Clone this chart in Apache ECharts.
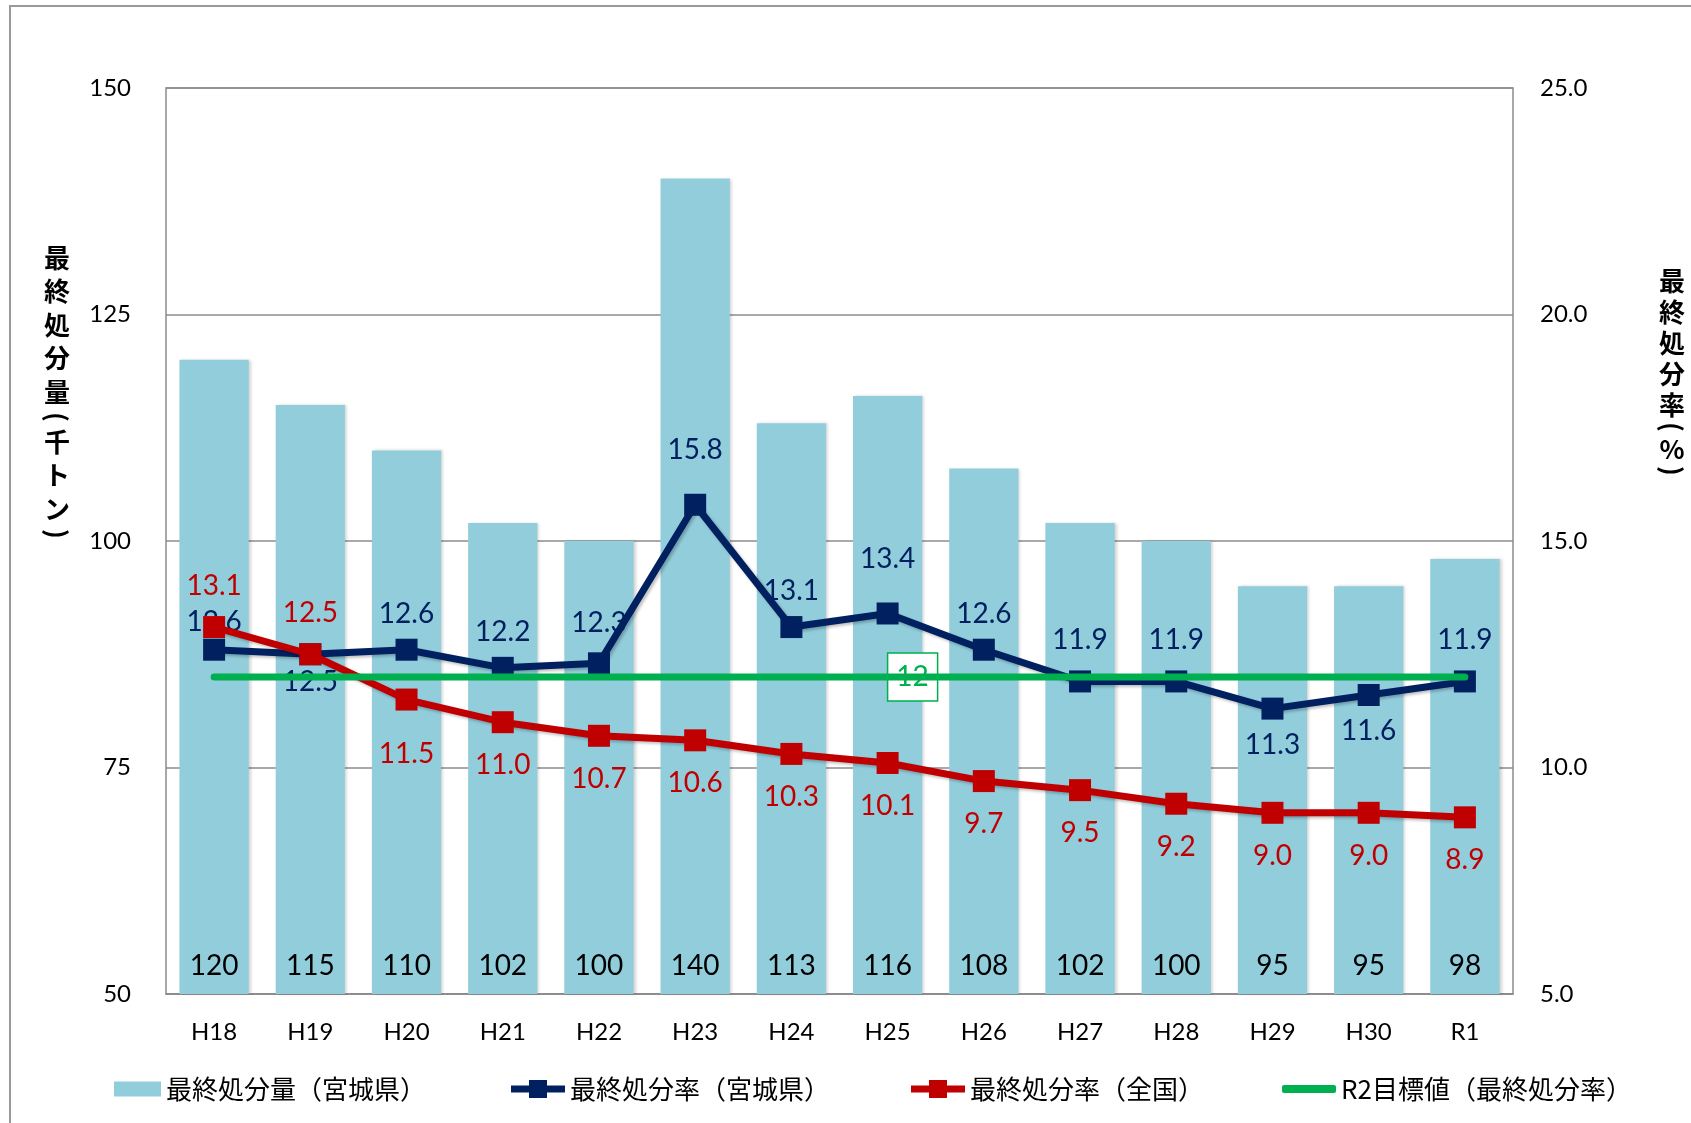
<!DOCTYPE html>
<html>
<head>
<meta charset="utf-8">
<script src="https://cdn.jsdelivr.net/npm/echarts@6/dist/echarts.min.js"></script>
<style>
html, body { margin: 0; padding: 0; background: #fff; }
#chart { width: 1691px; height: 1123px; }
</style>
</head>
<body>
<div id="chart"></div>
<script>
// 年度
const years = ['H18', 'H19', 'H20', 'H21', 'H22', 'H23', 'H24', 'H25', 'H26', 'H27', 'H28', 'H29', 'H30', 'R1'];
// 最終処分量（宮城県） 千トン
const amountMiyagi = [120, 115, 110, 102, 100, 140, 113, 116, 108, 102, 100, 95, 95, 98];
// 最終処分率（宮城県） %
const rateMiyagi = [12.6, 12.5, 12.6, 12.2, 12.3, 15.8, 13.1, 13.4, 12.6, 11.9, 11.9, 11.3, 11.6, 11.9];
// 最終処分率（全国） %
const rateNational = [13.1, 12.5, 11.5, 11.0, 10.7, 10.6, 10.3, 10.1, 9.7, 9.5, 9.2, 9.0, 9.0, 8.9];
// R2目標値（最終処分率） %
const rateTarget = [12, 12, 12, 12, 12, 12, 12, 12, 12, 12, 12, 12, 12, 12];

const names = ['最終処分量（宮城県）', '最終処分率（宮城県）', '最終処分率（全国）', 'R2目標値（最終処分率）'];

const NAVY = '#002060';
const RED = '#C00000';
const GREEN = '#00B050';
const BLUE = '#92CDDC';
const GRAY = '#8c8c8c';

// ラベルの上下・距離（見た目の調整用）
const miyagiBelow = [1, 11, 12];
const miyagiDist = { 0: 3, 1: 3, 5: 30, 7: 30, 4: 15, 9: 16, 10: 16, 13: 16 };
const nationalAbove = [0, 1];
const nationalDist = { 2: 29 };

const miyagiData = rateMiyagi.map((v, i) => ({
  value: v,
  label: {
    position: miyagiBelow.includes(i) ? 'bottom' : 'top',
    distance: miyagiDist[i] !== undefined ? miyagiDist[i] : 11
  }
}));
const nationalData = rateNational.map((v, i) => ({
  value: v,
  label: {
    position: nationalAbove.includes(i) ? 'top' : 'bottom',
    distance: nationalDist[i] !== undefined ? nationalDist[i] : (nationalAbove.includes(i) ? 16 : 18)
  }
}));

// 縦書きの軸タイトル（括弧は90度回転）
function verticalTitle(chars, x, yFirst, pitch, parenStep) {
  const out = [];
  let y = yFirst;
  chars.forEach((ch, i) => {
    if (i > 0) {
      const prevParen = chars[i - 1] === '(' || chars[i - 1] === ')';
      const paren = ch === '(' || ch === ')';
      y += (prevParen || paren) ? parenStep : pitch;
    }
    const isParen = ch === '(' || ch === ')';
    out.push({
      type: 'text', silent: true,
      x: x, y: y,
      rotation: isParen ? -Math.PI / 2 : 0,
      style: {
        text: ch, fill: '#000',
        fontFamily: 'Noto Sans CJK JP', fontWeight: 'bold', fontSize: 26,
        align: 'center', verticalAlign: 'middle'
      }
    });
  });
  return out;
}

const navyIcon = 'path://M0,5.5 H18 V0 H36 V5.5 H54 V12.5 H36 V18 H18 V12.5 H0 Z';
const legendLeft = [114, 511, 911, 1282];
const legendIcon = ['rect', navyIcon, navyIcon, 'roundRect'];
const legendSize = [[47, 15], [54, 18], [54, 18], [54, 8]];

var myChart = echarts.init(document.getElementById('chart'));

var option = {
  animation: false,
  backgroundColor: '#fff',
  textStyle: { fontFamily: 'Lato' },
  graphic: [
    {
      type: 'rect', z: -10, silent: true,
      shape: { x: 10, y: 6, width: 1700, height: 1200 },
      style: { fill: 'none', stroke: '#9a9a9a', lineWidth: 2 }
    }
  ].concat(
    verticalTitle(['最', '終', '処', '分', '量', '(', '千', 'ト', 'ン', ')'], 57, 258, 33.5, 25),
    verticalTitle(['最', '終', '処', '分', '率', '(', '%', ')'], 1672, 281, 31, 22)
  ),
  legend: names.map((n, i) => ({
    data: [{ name: n, icon: legendIcon[i] }],
    left: legendLeft[i],
    top: 1076,
    padding: 0,
    itemWidth: legendSize[i][0],
    itemHeight: legendSize[i][1],
    selectedMode: false,
    textStyle: { fontFamily: 'Noto Sans CJK JP', fontSize: 26, color: '#000' }
  })),
  grid: {
    left: 166, right: 178, top: 88, bottom: 129,
    containLabel: false,
    outerBoundsMode: 'none',
    show: true,
    borderColor: GRAY,
    borderWidth: 1.5,
    backgroundColor: 'transparent'
  },
  xAxis: {
    type: 'category',
    data: years,
    axisLine: { lineStyle: { color: GRAY, width: 1.5 } },
    axisTick: { inside: true, length: 8, lineStyle: { color: GRAY, width: 1.5 } },
    axisLabel: { color: '#000', fontSize: 24, margin: 26, interval: 0 }
  },
  yAxis: [
    {
      type: 'value', min: 50, max: 150, interval: 25,
      axisLine: { show: false },
      axisTick: { show: false },
      splitLine: { lineStyle: { color: GRAY, width: 1.5 } },
      axisLabel: { color: '#000', fontSize: 24, margin: 35 }
    },
    {
      type: 'value', min: 5, max: 25, interval: 5,
      axisLine: { show: false },
      axisTick: { show: false },
      splitLine: { show: false },
      axisLabel: { color: '#000', fontSize: 24, margin: 27, formatter: v => v.toFixed(1) }
    }
  ],
  series: [
    {
      name: names[0],
      type: 'bar',
      data: amountMiyagi,
      barWidth: '72%',
      itemStyle: {
        color: BLUE,
        shadowColor: 'rgba(0,0,0,0.18)', shadowBlur: 3, shadowOffsetX: 2
      },
      label: {
        show: true, position: 'insideBottom', distance: 14,
        color: '#000', fontSize: 28, fontFamily: 'Lato'
      },
      z: 1
    },
    {
      name: names[1],
      type: 'line',
      yAxisIndex: 1,
      data: miyagiData,
      symbol: 'rect',
      symbolSize: 22,
      lineStyle: { color: NAVY, width: 7, shadowColor: 'rgba(0,0,0,0.25)', shadowBlur: 3, shadowOffsetX: 2, shadowOffsetY: 2 },
      itemStyle: { color: NAVY },
      label: { show: true, color: NAVY, fontSize: 28, fontFamily: 'Lato', formatter: p => p.value.toFixed(1) },
      z: 3
    },
    {
      name: names[2],
      type: 'line',
      yAxisIndex: 1,
      data: nationalData,
      symbol: 'rect',
      symbolSize: 22,
      lineStyle: { color: RED, width: 7, shadowColor: 'rgba(0,0,0,0.25)', shadowBlur: 3, shadowOffsetX: 2, shadowOffsetY: 2 },
      itemStyle: { color: RED },
      label: { show: true, color: RED, fontSize: 28, fontFamily: 'Lato', formatter: p => p.value.toFixed(1) },
      z: 4
    },
    {
      name: names[3],
      type: 'line',
      yAxisIndex: 1,
      data: rateTarget,
      symbol: 'none',
      lineStyle: { color: GREEN, width: 7, cap: 'round' },
      itemStyle: { color: GREEN },
      markPoint: {
        silent: true,
        symbol: 'rect',
        symbolSize: [50, 48],
        symbolOffset: [25, 0],
        itemStyle: { color: '#fff', borderColor: GREEN, borderWidth: 1.5 },
        label: { show: true, position: 'inside', color: GREEN, fontSize: 28, fontFamily: 'Lato', formatter: p => String(p.value) },
        data: [{ coord: [years[7], rateTarget[7]], value: rateTarget[7] }]
      },
      z: 5
    }
  ]
};

myChart.setOption(option);
</script>
</body>
</html>
